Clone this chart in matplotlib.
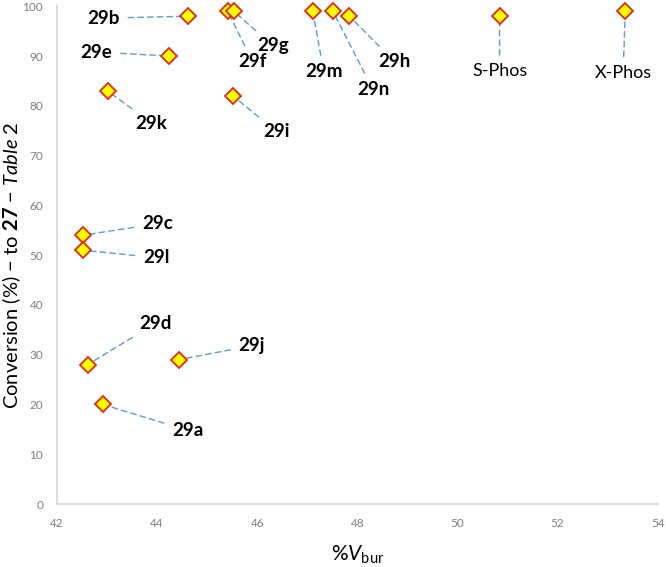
import matplotlib
import numpy as np
from matplotlib import pyplot as plt

matplotlib.rcParams["font.family"] = "Lato"
matplotlib.rcParams["mathtext.fontset"] = "custom"
matplotlib.rcParams["mathtext.rm"] = "Lato"
matplotlib.rcParams["mathtext.it"] = "Lato:italic"
matplotlib.rcParams["mathtext.bf"] = "Lato:bold"

# ligand, %Vbur, conversion (%)
names = ["29a", "29b", "29c", "29d", "29e", "29f", "29g", "29h", "29i",
         "29j", "29k", "29l", "29m", "29n", "S-Phos", "X-Phos"]
vbur = [42.92, 44.61, 42.51, 42.61, 44.23, 45.41, 45.53, 47.84, 45.51,
        44.43, 43.01, 42.51, 47.11, 47.51, 50.84, 53.35]
conversion = [20, 98, 54, 28, 90, 99, 99, 98, 82,
              29, 83, 51, 99, 99, 98, 99]

# where each label sits (data coords)
label_x = [44.61, 42.93, 44.00, 43.97, 42.79, 45.91, 46.31, 48.74, 46.39,
           45.89, 43.89, 43.98, 47.33, 48.31, 50.84, 53.31]
label_y = [14.8, 97.6, 56.3, 36.3, 90.8, 88.8, 92.1, 88.9, 74.8,
           31.8, 76.5, 49.5, 86.8, 83.3, 86.9, 86.6]

fig = plt.figure(figsize=(6.66, 5.67), dpi=100)
ax = fig.add_axes([0.0856, 0.111, 0.902, 0.878])

for n, x, y, lx, ly in zip(names, vbur, conversion, label_x, label_y):
    bold = not n.endswith("Phos")
    ax.annotate(n, xy=(x, y), xytext=(lx, ly), ha="center", va="center",
                fontsize=13.5 if bold else 13,
                fontweight="bold" if bold else "normal",
                color="black",
                arrowprops=dict(arrowstyle="-", color="#5B9BD5", lw=1.0,
                                linestyle=(0, (4, 3)), shrinkA=4, shrinkB=0),
                zorder=2)

ax.plot(vbur, conversion, "D", ms=8, mfc="#FFFF00", mec="#E8261A", mew=1.3,
        linestyle="none", zorder=3, clip_on=False)

ax.set_xlim(42, 54)
ax.set_ylim(0, 100)
ax.set_xticks(np.arange(42, 55, 2))
ax.set_yticks(np.arange(0, 101, 10))
ax.tick_params(length=0, labelsize=8.5, colors="#7f7f7f", pad=10)
for s in ["top", "right"]:
    ax.spines[s].set_visible(False)
for s in ["left", "bottom"]:
    ax.spines[s].set_color("#d9d9d9")
    ax.spines[s].set_linewidth(1.3)

ax.set_xlabel(r"%$V_{\mathrm{bur}}$", fontsize=15)
ax.xaxis.set_label_coords(0.5, -0.079)
ax.set_ylabel(r"Conversion (%) $-$ to $\mathbf{27}$ $-$ $\mathit{Table}$ $\mathit{2}$",
              fontsize=14.5)
ax.yaxis.set_label_coords(-0.057, 0.48)

plt.savefig("out.png", dpi=100)
